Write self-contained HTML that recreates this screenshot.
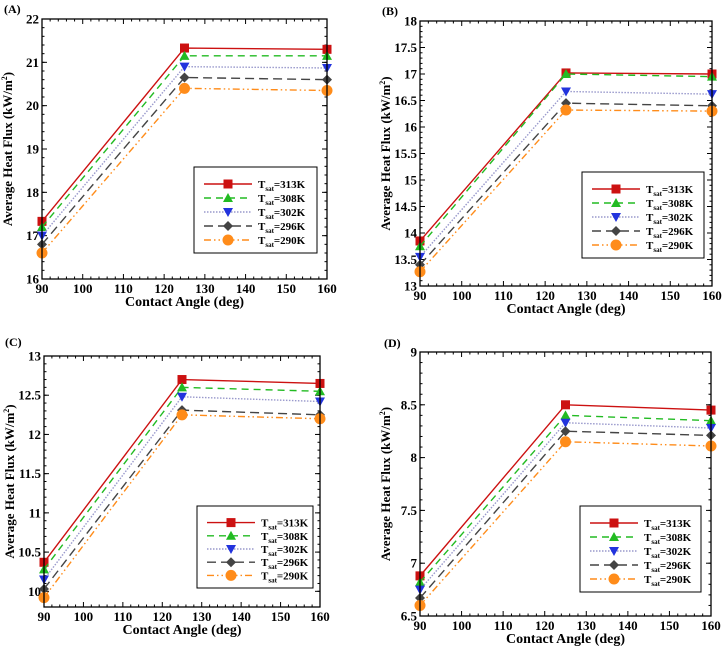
<!DOCTYPE html>
<html><head><meta charset="utf-8"><style>
body{margin:0;background:#fff;}
svg{display:block;font-family:"Liberation Serif",serif;font-weight:bold;}
</style></head><body>
<svg id="chart" width="722" height="646" viewBox="0 0 722 646" xmlns="http://www.w3.org/2000/svg"></svg>
<script>
const xCategories=[90,125,160];
const xTicks=[90,100,110,120,130,140,150,160];
const seriesLabels=["313K","308K","302K","296K","290K"];
const panelLabels=["(A)","(B)","(C)","(D)"];
const aValues=[[17.33,21.33,21.3],[17.2,21.15,21.15],[17.0,20.9,20.87],[16.8,20.65,20.6],[16.6,20.4,20.35]];
const bValues=[[13.85,17.02,17.0],[13.75,17.0,16.95],[13.55,16.67,16.62],[13.4,16.45,16.4],[13.27,16.32,16.3]];
const cValues=[[10.37,12.7,12.65],[10.28,12.6,12.55],[10.15,12.48,12.42],[10.03,12.31,12.25],[9.92,12.25,12.2]];
const dValues=[[6.88,8.5,8.45],[6.82,8.4,8.35],[6.75,8.33,8.28],[6.67,8.25,8.21],[6.6,8.15,8.11]];
const aTicks=["16","17","18","19","20","21","22"];
const bTicks=["13","13.5","14","14.5","15","15.5","16","16.5","17","17.5","18"];
const cTicks=["10","10.5","11","11.5","12","12.5","13"];
const dTicks=["6.5","7","7.5","8","8.5","9"];

const styles=[
 {c:"#cc1111",d:"",m:"sq"},
 {c:"#22bb22",d:"7,5",m:"tri"},
 {c:"#9999cc",d:"1.5,1.5",m:"itri"},
 {c:"#444444",d:"9,5",m:"dia"},
 {c:"#ff8c1a",d:"7,3,1.5,3,1.5,3",m:"circ"}];
const panels=[
 {vals:aValues,ticks:aTicks,ymin:16,ymax:22,x0:42,x1:327,y0:19,y1:279,lab:[4,13],leg:[194,167,317,253]},
 {vals:bValues,ticks:bTicks,ymin:13,ymax:18,x0:420,x1:712,y0:21,y1:286,lab:[382,15],leg:[582,172,704,258]},
 {vals:cValues,ticks:cTicks,ymin:9.8,ymax:13,x0:44,x1:320,y0:356,y1:607,lab:[5,346],leg:[197,506,313,588]},
 {vals:dValues,ticks:dTicks,ymin:6.5,ymax:9,x0:420,x1:711,y0:352,y1:616,lab:[384,347],leg:[580,506,701,592]}];
const NS="http://www.w3.org/2000/svg";
const svg=document.getElementById('chart');
function mk(tag,attrs,parent,text){const e=document.createElementNS(NS,tag);for(const k in attrs)e.setAttribute(k,attrs[k]);if(text!==undefined)e.textContent=text;(parent||svg).appendChild(e);return e;}
function marker(g,type,x,y,col){
 let e;
 if(type=="sq")e=mk('rect',{x:x-4.5,y:y-4.5,width:9,height:9,fill:col},g);
 else if(type=="tri")e=mk('polygon',{points:`${x},${y-5} ${x-5},${y+4} ${x+5},${y+4}`,fill:col},g);
 else if(type=="itri")e=mk('polygon',{points:`${x},${y+5} ${x-5},${y-4} ${x+5},${y-4}`,fill:"#2233dd"},g);
 else if(type=="dia")e=mk('polygon',{points:`${x},${y-5} ${x+5},${y} ${x},${y+5} ${x-5},${y}`,fill:col},g);
 else e=mk('circle',{cx:x,cy:y,r:5.5,fill:col},g);
 
 
}
panels.forEach((p,pi)=>{
 const g=mk('g',{});
 
 
 const xs=v=>p.x0+(v-90)/(160-90)*(p.x1-p.x0);
 const ys=v=>p.y1-(v-p.ymin)/(p.ymax-p.ymin)*(p.y1-p.y0);
 const t=mk('text',{x:p.lab[0],y:p.lab[1],'font-size':12},g,panelLabels[pi]);
 
 // x ticks
 xTicks.forEach(v=>{
  const X=xs(v);
  mk('line',{x1:X,x2:X,y1:p.y1,y2:p.y1-5,stroke:'#000'},g);
  mk('line',{x1:X,x2:X,y1:p.y0,y2:p.y0+5,stroke:'#000'},g);
  const tl=mk('text',{x:X,y:p.y1+14,'text-anchor':'middle','font-size':13},g,String(v));
  
 });
 for(let v=92;v<160;v+=2){if(v%10==0)continue;const X=xs(v);
  mk('line',{x1:X,x2:X,y1:p.y1,y2:p.y1-2.5,stroke:'#000'},g);mk('line',{x1:X,x2:X,y1:p.y0,y2:p.y0+2.5,stroke:'#000'},g);}
 p.ticks.forEach(s=>{
  const v=parseFloat(s),Y=ys(v);
  mk('line',{x1:p.x0,x2:p.x0+5,y1:Y,y2:Y,stroke:'#000'},g);
  mk('line',{x1:p.x1,x2:p.x1-5,y1:Y,y2:Y,stroke:'#000'},g);
  const tl=mk('text',{x:p.x0-3,y:Y+4.5,'text-anchor':'end','font-size':13},g,s);
  
 });
 const step=parseFloat(p.ticks[1])-parseFloat(p.ticks[0]);
 for(let v=parseFloat(p.ticks[0]);v<p.ymax;v+=step/5){const Y=ys(v);if(Y<p.y0||Y>p.y1)continue;
  mk('line',{x1:p.x0,x2:p.x0+2.5,y1:Y,y2:Y,stroke:'#000'},g);mk('line',{x1:p.x1,x2:p.x1-2.5,y1:Y,y2:Y,stroke:'#000'},g);}
 const xt=mk('text',{x:(p.x0+p.x1)/2,y:p.y1+27,'text-anchor':'middle','font-size':14},g,'Contact Angle (deg)');
 
 const cy=(p.y0+p.y1)/2;
 const yt=mk('text',{x:0,y:0,'text-anchor':'middle','font-size':13,transform:`translate(${p.x0-30},${cy}) rotate(-90)`},g);
 
 yt.innerHTML='Average Heat Flux  (kW/m<tspan dy="-5" font-size="8">2</tspan><tspan dy="5">)</tspan>';
 p.vals.forEach((arr,si)=>{
  const st=styles[si];
  const pts=arr.map((v,i)=>xs(xCategories[i])+','+ys(v)).join(' ');
  const l=mk('polyline',{points:pts,fill:'none',stroke:st.c,'stroke-width':1.4,'stroke-dasharray':st.d},g);
  
  arr.forEach((v,i)=>marker(g,st.m,xs(xCategories[i]),ys(v),st.c));
 });
 mk('rect',{x:p.x0,y:p.y0,width:p.x1-p.x0,height:p.y1-p.y0,fill:'none',stroke:'#000','stroke-width':1.3},g);
 const [lx0,ly0,lx1,ly1]=p.leg;
 const lg=mk('g',{},g);
 
 mk('rect',{x:lx0,y:ly0,width:lx1-lx0,height:ly1-ly0,fill:'#fff',stroke:'#000','stroke-width':1},lg);
 const rh=(ly1-ly0-16)/5;
 seriesLabels.forEach((s,si)=>{
  const st=styles[si],Y=ly0+10+rh*(si+0.5);
  mk('line',{x1:lx0+10,x2:lx0+58,y1:Y,y2:Y,stroke:st.c,'stroke-width':1.4,'stroke-dasharray':st.d},lg);
  marker(lg,st.m,lx0+34,Y,st.c);
  const tx=mk('text',{x:lx0+64,y:Y+4,'font-size':11},lg);
  
  tx.innerHTML='T<tspan dy="3" font-size="7">sat</tspan><tspan dy="-3">='+s+'</tspan>';
 });
});
</script>
</body></html>
